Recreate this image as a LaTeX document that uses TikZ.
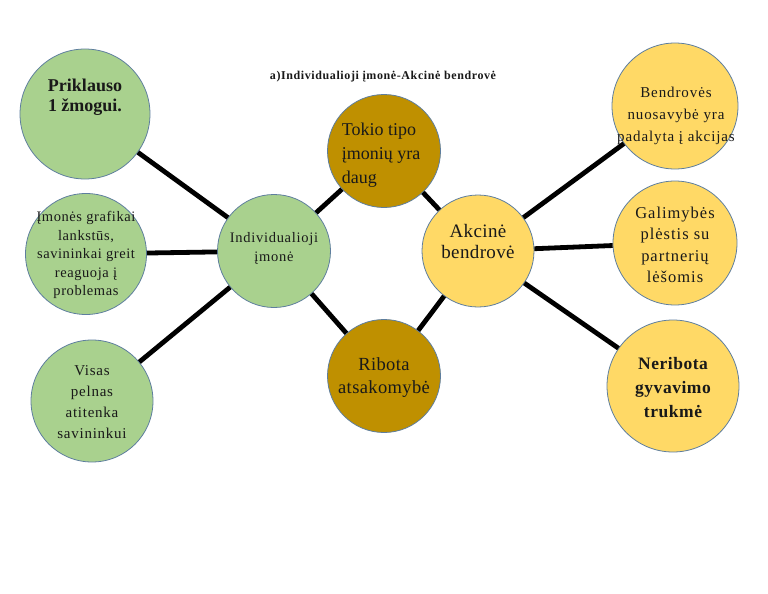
\documentclass[tikz,border=0pt]{standalone}
\usepackage{fontspec}
\setmainfont{Liberation Serif}
\definecolor{gfill}{HTML}{A9D18E}
\definecolor{dgold}{HTML}{BF9000}
\definecolor{ylw}{HTML}{FFD966}
\definecolor{edge}{HTML}{5E7E9E}
\newcommand{\ls}[1]{\addfontfeature{LetterSpace=#1}}
\tikzset{
  bubble/.style={circle,draw=edge,line width=0.8pt,inner sep=0pt},
  gbub/.style={bubble,fill=gfill},
  dbub/.style={bubble,fill=dgold},
  ybub/.style={bubble,fill=ylw},
  txt/.style={align=center,inner sep=0pt,text=black!90},
  link/.style={line width=4.8pt,black}
}
\begin{document}
\begin{tikzpicture}[x=1pt,y=-1pt]
\useasboundingbox (0,0) rectangle (768,594);
% title
\node[txt,font=\fontsize{12}{14}\selectfont\bfseries\ls{5}] (title) at (383,77) {a)Individualioji įmonė-Akcinė bendrovė};
% circles
\node[gbub,minimum size=130pt] (p1) at (85,114) {};
\node[gbub,minimum size=121pt] (p2) at (86,254) {};
\node[gbub,minimum size=122pt] (p3) at (92,401) {};
\node[gbub,minimum size=113pt] (ind) at (274,251) {};
\node[dbub,minimum size=113pt] (tok) at (384,151) {};
\node[dbub,minimum size=113pt] (rib) at (384,376) {};
\node[ybub,minimum size=112pt] (akc) at (478,251) {};
\node[ybub,minimum size=126pt] (b1) at (675,106) {};
\node[ybub,minimum size=124pt] (b2) at (675,243) {};
\node[ybub,minimum size=132pt] (b3) at (673,386) {};
% texts
\node[txt,font=\fontsize{18}{20}\selectfont\bfseries] (t1) at (85,97) {Priklauso\\1 žmogui.};
\node[txt,font=\fontsize{14.5}{18.5}\selectfont\ls{4}] (t2) at (86,255) {Įmonės grafikai\\lankstūs,\\savininkai greit\\reaguoja į\\problemas};
\node[txt,font=\fontsize{15}{21}\selectfont\ls{5}] (t3) at (92,402) {Visas\\pelnas\\atitenka\\savininkui};
\node[txt,font=\fontsize{14.5}{19}\selectfont\ls{5}] (tind) at (274,248) {Individualioji\\įmonė};
\node[txt,align=left,font=\fontsize{18}{24}\selectfont] (ttok) at (381,155) {Tokio tipo\\įmonių yra\\daug};
\node[txt,font=\fontsize{18.5}{23}\selectfont\ls{2}] (trib) at (384,378) {Ribota\\atsakomybė};
\node[txt,font=\fontsize{19}{21}\selectfont\ls{2}] (takc) at (478,241) {Akcinė\\bendrovė};
\node[txt,font=\fontsize{15}{22}\selectfont\ls{6}] (tb1) at (676,116) {Bendrovės\\nuosavybė yra\\padalyta į akcijas};
\node[txt,font=\fontsize{16.5}{21.5}\selectfont\ls{6}] (tb2) at (675,245) {Galimybės\\plėstis su\\partnerių\\lėšomis};
\node[txt,font=\fontsize{17.5}{24}\selectfont\bfseries\ls{3}] (tb3) at (673,388) {Neribota\\gyvavimo\\trukmė};
% connectors
\draw[link] (p1) -- (ind);
\draw[link] (p2) -- (ind);
\draw[link] (p3) -- (ind);
\draw[link] (ind) -- (tok);
\draw[link] (ind) -- (rib);
\draw[link] (tok) -- (akc);
\draw[link] (rib) -- (akc);
\draw[link] (akc) -- (b1);
\draw[link] (akc) -- (b2);
\draw[link] (akc) -- (b3);
\end{tikzpicture}
\end{document}
